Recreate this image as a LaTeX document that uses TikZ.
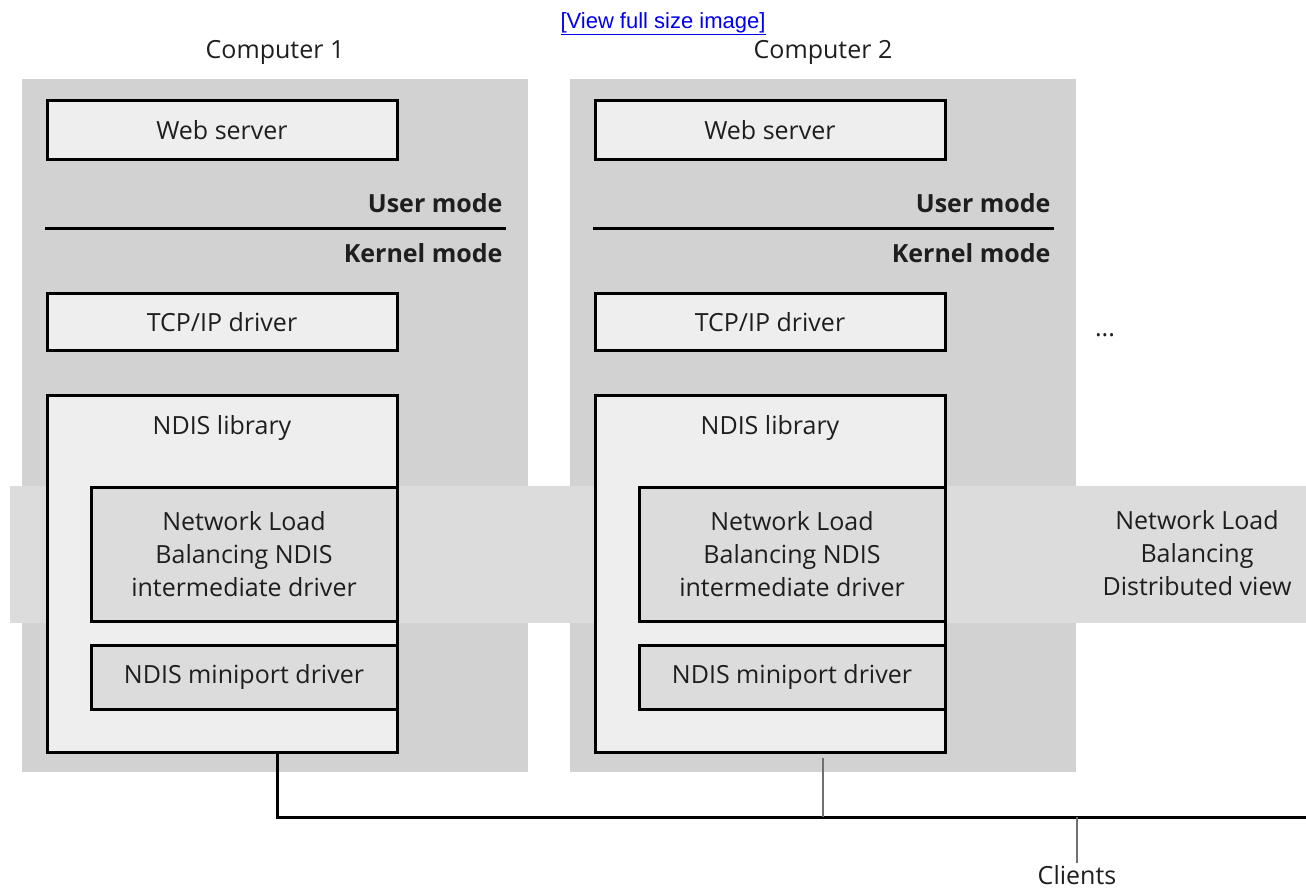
\documentclass[tikz,border=0pt]{standalone}
\usepackage{fontspec}
\setmainfont{Open Sans}
\newfontfamily\linkfont{Liberation Sans}
\usetikzlibrary{positioning}

\definecolor{panelgray}{HTML}{D2D2D2}
\definecolor{bandgray}{HTML}{DCDCDC}
\definecolor{boxgray}{HTML}{EEEEEE}
\definecolor{wiregray}{HTML}{707070}
\definecolor{textgray}{HTML}{1E1E1E}
\definecolor{linkblue}{HTML}{0000EE}

\tikzset{
  every node/.style={text=textgray, font=\fontsize{25}{33}\selectfont},
  area/.style={fill=#1, draw=none, anchor=north west, inner sep=0pt, outer sep=0pt},
  layer/.style={draw=black, line width=3pt, fill=#1, anchor=north west, inner sep=0pt, outer sep=0pt, align=center},
  modetext/.style={anchor=east, font=\bfseries\fontsize{25}{33}\selectfont},
  wire/.style={line width=3pt, black},
  thinwire/.style={line width=2pt, wiregray},
}

\begin{document}
\begin{tikzpicture}[x=1pt, y=-1pt]
    \useasboundingbox (0,0) rectangle (1306,893);

    \node[text=linkblue, font=\linkfont\fontsize{22}{26}\selectfont] (link) at (663,24) {\underline{[View full size image]}};

    % gray computer panels
    \foreach \i/\dx in {1/0, 2/548} {
            \node[area=panelgray, minimum width=506pt, minimum height=693pt] (pc\i) at (22+\dx,79) {};
            \node (title\i) at (275+\dx,52) {Computer \i};
        }

    % distributed view band across the computers
    \node[area=bandgray, minimum width=1296pt, minimum height=137pt] (band) at (10,486) {};
    \node[align=center] (nlbview) at (1197,553) {Network Load\\Balancing\\Distributed view};
    \node (more) at (1105,335) {...};

    % layers of each computer
    \foreach \i/\dx in {1/0, 2/548} {
            \node[layer=boxgray, minimum width=350pt, minimum height=59pt] (web\i) at (47+\dx,101) {Web server};
            \node[modetext] (user\i) at (506+\dx,203) {User mode};
            \draw[line width=3pt] (45+\dx,229) -- (506+\dx,229);
            \node[modetext] (kernel\i) at (506+\dx,253) {Kernel mode};
            \node[layer=boxgray, minimum width=350pt, minimum height=56pt] (tcp\i) at (47+\dx,294) {TCP/IP driver};
            \node[layer=boxgray, minimum width=350pt, minimum height=357pt] (ndis\i) at (47+\dx,395) {};
            \node (ndistxt\i) at (222+\dx,428) {NDIS library};
            \node[layer=bandgray, minimum width=306pt, minimum height=134pt] (nlb\i) at (91+\dx,487) {Network Load\\Balancing NDIS\\intermediate driver};
            \node[layer=bandgray, minimum width=306pt, minimum height=64pt] (mini\i) at (91+\dx,645) {NDIS miniport driver};
        }

    % network to the clients
    \coordinate (tap1) at (277,817);
    \coordinate (tap2) at (823,817);
    \coordinate (tapc) at (1077,817);
    \coordinate (busend) at (1306,817);
    \node (clients) at (1077,875) {Clients};

    \draw[wire] (ndis1.south -| tap1) -- (tap1) -- (busend);
    \draw[thinwire] ([yshift=-6pt]ndis2.south -| tap2) -- (tap2);
    \draw[thinwire] (tapc) -- ([yshift=-1pt]clients.north);
\end{tikzpicture}
\end{document}
